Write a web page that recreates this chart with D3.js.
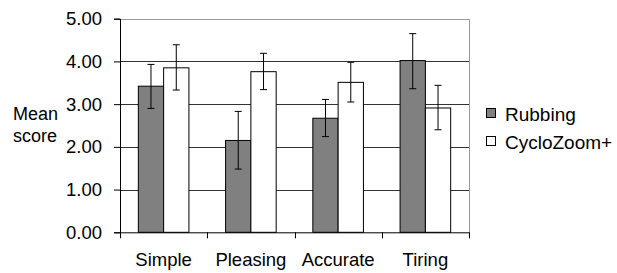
<!DOCTYPE html>
<html><head><meta charset="utf-8">
<script src="https://cdn.jsdelivr.net/npm/d3@7"></script>
<style>
html,body{margin:0;padding:0;background:#fff;}
svg{display:block;}
text{font-family:"Liberation Sans",Arial,sans-serif;fill:#000;}
</style></head>
<body>
<svg id="chart" width="617" height="273"></svg>
<script>
const categories = ["Simple", "Pleasing", "Accurate", "Tiring"];
const seriesNames = ["Rubbing", "CycloZoom+"];
const seriesColors = ["#808080", "#ffffff"];
const rubbingMean = [3.42, 2.15, 2.67, 4.02];
const rubbingLow  = [2.90, 1.48, 2.24, 3.36];
const rubbingHigh = [3.93, 2.83, 3.11, 4.65];
const cycloMean = [3.85, 3.76, 3.51, 2.91];
const cycloLow  = [3.33, 3.34, 3.05, 2.40];
const cycloHigh = [4.39, 4.19, 3.98, 3.44];
const yTicks = [0, 1, 2, 3, 4, 5];
const yLabelLines = ["Mean", "score"];

const svg = d3.select("#chart");
const pLeft = 120, pRight = 469, pTop = 18.7, pBottom = 232.3;
const fontSize = "18.5px";

const y = d3.scaleLinear().domain([0, 5]).range([pBottom, pTop]);
const x0 = d3.scaleBand().domain(categories).range([pLeft, pRight]).padding(0);
const x1 = d3.scaleBand().domain(seriesNames).range([0, x0.bandwidth()]).paddingInner(0).paddingOuter(0.724);

const data = categories.map((c, i) => ({
  cat: c,
  vals: [
    {s: seriesNames[0], v: rubbingMean[i], lo: rubbingLow[i], hi: rubbingHigh[i], color: seriesColors[0]},
    {s: seriesNames[1], v: cycloMean[i], lo: cycloLow[i], hi: cycloHigh[i], color: seriesColors[1]}
  ]
}));

// gridlines
svg.append("g").selectAll("line").data(yTicks.filter(t => t > 0 && t < 5)).join("line")
  .attr("x1", pLeft).attr("x2", pRight)
  .attr("y1", d => Math.round(y(d)) + 0.5).attr("y2", d => Math.round(y(d)) + 0.5)
  .attr("stroke", "#333").attr("stroke-width", 1);
// top and right border
svg.append("line").attr("x1", pLeft).attr("x2", pRight + 0.5).attr("y1", Math.round(y(5)) + 0.5).attr("y2", Math.round(y(5)) + 0.5)
  .attr("stroke", "#999");
svg.append("line").attr("x1", pRight + 0.5).attr("x2", pRight + 0.5).attr("y1", Math.round(y(5)) + 0.5).attr("y2", Math.round(y(0)))
  .attr("stroke", "#999");

// bars
const groups = svg.append("g").selectAll("g").data(data).join("g")
  .attr("transform", d => `translate(${x0(d.cat)},0)`);
groups.selectAll("rect").data(d => d.vals).join("rect")
  .attr("x", d => x1(d.s)).attr("width", x1.bandwidth())
  .attr("y", d => y(d.v)).attr("height", d => y(0) - y(d.v))
  .attr("fill", d => d.color).attr("stroke", "#000").attr("stroke-width", 1);

// error bars
const eb = groups.selectAll("g.eb").data(d => d.vals).join("g").attr("class", "eb");
eb.append("line")
  .attr("x1", d => x1(d.s) + x1.bandwidth() / 2).attr("x2", d => x1(d.s) + x1.bandwidth() / 2)
  .attr("y1", d => y(d.lo)).attr("y2", d => y(d.hi)).attr("stroke", "#000");
eb.append("line")
  .attr("x1", d => x1(d.s) + x1.bandwidth() / 2 - 3.5).attr("x2", d => x1(d.s) + x1.bandwidth() / 2 + 3.5)
  .attr("y1", d => y(d.lo)).attr("y2", d => y(d.lo)).attr("stroke", "#000");
eb.append("line")
  .attr("x1", d => x1(d.s) + x1.bandwidth() / 2 - 3.5).attr("x2", d => x1(d.s) + x1.bandwidth() / 2 + 3.5)
  .attr("y1", d => y(d.hi)).attr("y2", d => y(d.hi)).attr("stroke", "#000");

// y axis
const yAxis = svg.append("g").attr("transform", `translate(${pLeft},0)`)
  .call(d3.axisLeft(y).tickValues(yTicks).tickFormat(d3.format(".2f")).tickSizeOuter(0).tickSize(6).tickPadding(12));
yAxis.select(".domain").attr("stroke", "#000");
yAxis.selectAll(".tick line").attr("stroke", "#000");
yAxis.selectAll(".tick text").attr("font-size", fontSize).attr("font-family", "Liberation Sans, Arial, sans-serif").attr("fill", "#000");

// x axis
const xAxis = svg.append("g").attr("transform", `translate(0,${pBottom})`)
  .call(d3.axisBottom(x0).tickSize(0).tickPadding(21));
xAxis.select(".domain").attr("stroke", "#000");
xAxis.selectAll(".tick text").attr("font-size", fontSize).attr("font-family", "Liberation Sans, Arial, sans-serif").attr("fill", "#000").attr("dy", "0.71em");
// x ticks at band boundaries
const bounds = categories.map(c => x0(c)).concat([pRight]);
svg.append("g").selectAll("line").data(bounds).join("line")
  .attr("x1", d => Math.round(d) + 0.5).attr("x2", d => Math.round(d) + 0.5)
  .attr("y1", pBottom).attr("y2", pBottom + 6).attr("stroke", "#000");

// y label
svg.append("g").selectAll("text").data(yLabelLines).join("text")
  .attr("x", 13).attr("y", (d, i) => 120 + i * 22)
  .attr("font-size", "18px").text(d => d);

// legend
const legend = svg.append("g").attr("transform", "translate(486,107)");
const li = legend.selectAll("g").data(seriesNames).join("g").attr("transform", (d, i) => `translate(0,${i * 28})`);
li.append("rect").attr("x", 0.5).attr("y", 1.5).attr("width", 9).attr("height", 9)
  .attr("fill", (d, i) => seriesColors[i]).attr("stroke", "#000");
li.append("text").attr("x", 19).attr("y", 13.5).attr("font-size", "19px").text(d => d);
</script>
</body></html>
